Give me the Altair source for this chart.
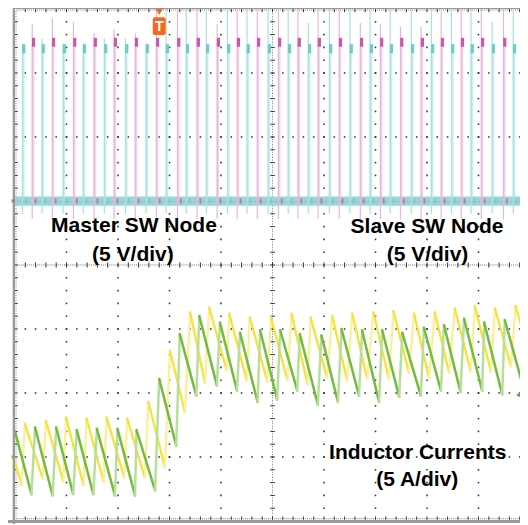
import altair as alt
import pandas as pd

# ---------------- data ----------------
# time in screen divisions (10 div across), inductor currents in A (5 A/div)
yellow_t = [0.00, 0.13, 0.19, 0.54, 0.60, 0.94, 0.99, 1.33, 1.39, 1.72, 1.78, 2.12, 2.18,
            2.52, 2.59, 2.91, 3.01, 3.30, 3.40, 3.69, 3.77, 4.11, 4.16, 4.50, 4.56, 4.90,
            4.97, 5.29, 5.37, 5.68, 5.74, 6.06, 6.16, 6.45, 6.55, 6.84, 6.96, 7.26, 7.35,
            7.65, 7.75, 8.04, 8.15, 8.43, 8.54, 8.85, 8.93, 9.24, 9.32, 9.63, 9.72, 9.96]
yellow_a = [-0.4, -2.2, 2.6, -1.7, 2.8, -1.9, 3.1, -2.2, 3.0, -1.9, 3.1, -1.6, 3.0,
            -1.6, 4.3, -0.8, 8.3, 3.5, 11.3, 5.8, 11.7, 6.8, 11.2, 6.0, 10.9, 5.9,
            10.9, 6.0, 11.2, 5.7, 10.9, 6.2, 11.0, 6.0, 11.2, 6.1, 11.3, 6.1, 11.4,
            6.6, 11.2, 6.2, 11.3, 6.6, 11.6, 6.7, 11.8, 6.7, 11.6, 7.1, 11.8, 8.5]
green_t = [0.00, 0.32, 0.39, 0.73, 0.80, 1.13, 1.20, 1.52, 1.59, 1.94, 1.99, 2.33, 2.36,
           2.72, 2.80, 3.13, 3.20, 3.52, 3.58, 3.92, 3.98, 4.31, 4.37, 4.71, 4.76, 5.09,
           5.15, 5.48, 5.53, 5.88, 5.95, 6.27, 6.34, 6.68, 6.74, 7.07, 7.13, 7.46, 7.52,
           7.88, 7.94, 8.27, 8.33, 8.65, 8.72, 9.07, 9.11, 9.46, 9.51, 9.88, 9.94, 9.96]
green_a = [2.0, -2.9, 2.3, -3.0, 2.3, -2.9, 2.1, -2.9, 2.2, -3.0, 2.2, -3.0, 2.1,
           -2.6, 6.1, 0.9, 9.6, 4.8, 11.0, 5.6, 10.5, 5.2, 9.7, 4.3, 9.9, 4.5,
           9.9, 5.2, 9.6, 4.1, 9.5, 4.3, 10.0, 4.8, 9.9, 4.3, 9.9, 4.7, 9.7,
           4.8, 10.1, 5.2, 10.3, 5.1, 10.8, 5.2, 10.5, 4.9, 10.7, 5.3, 10.6, 10.3]

# switch-node pulses: pulse centre (div), spike top (V); 5 V/div
pink_pulse_t = [0.35, 0.74, 1.15, 1.55, 1.94, 2.35, 2.76, 3.17, 3.55, 3.94, 4.33, 4.72, 5.13,
                5.51, 5.90, 6.31, 6.72, 7.11, 7.50, 7.90, 8.29, 8.68, 9.07, 9.50, 9.88]
pink_spike_v = [13.8, 14.3, 14.0, 13.1, 13.4, 13.1, 15.5, 15.5, 15.5, 13.8, 15.5, 15.5, 15.5,
                15.5, 14.9, 15.5, 13.9, 13.8, 13.6, 13.6, 15.5, 15.5, 15.5, 15.5, 15.5]
cyan_pulse_t = [0.16, 0.54, 0.95, 1.34, 1.75, 2.16, 2.56, 2.95, 3.34, 3.73, 4.14, 4.52, 4.93,
                5.32, 5.71, 6.12, 6.52, 6.91, 7.30, 7.71, 8.10, 8.49, 8.87, 9.28, 9.69]
cyan_spike_v = [12.3, 12.7, 12.3, 12.3, 12.7, 12.7, 12.3, 15.5, 15.5, 15.5, 15.5, 15.5, 15.5,
                15.5, 13.9, 15.5, 15.5, 15.5, 15.5, 15.5, 15.5, 15.5, 15.5, 14.0, 15.5]
pink_plateau_v = 12.4
cyan_plateau_v = 11.9

labels = ["Master SW Node", "(5 V/div)", "Slave SW Node", "(5 V/div)",
          "Inductor Currents", "(5 A/div)"]
label_t = [2.31, 2.29, 8.00, 8.01, 7.82, 7.81]
label_y = [4.61, 4.16, 4.60, 4.16, 1.07, 0.64]

SW_OFF, IL_OFF = 5.0, 1.0   # channel ground positions (div)
V_DIV, A_DIV = 5.0, 5.0

# ---------------- scales (51.5 px per time div, 64 px per amplitude div) ----------------
X0, X1 = -7 / 51.5, 505 / 51.5
Y0, Y1 = -3 / 64, 513 / 64
xs = alt.Scale(domain=[X0, X1], nice=False, zero=False)
ys = alt.Scale(domain=[Y0, Y1], nice=False, zero=False)


def X(f="x"):
    return alt.X(f + ":Q", scale=xs, axis=None)


def Y(f="y"):
    return alt.Y(f + ":Q", scale=ys, axis=None)


# ---------------- graticule ----------------
dots = []
for k in [1, 2, 3, 4, 6, 7, 8, 9]:
    for j in range(1, 40):
        dots.append({"x": k, "y": j * 0.2})
for k in [1, 2, 3, 5, 6, 7]:
    for j in range(1, 50):
        dots.append({"x": j * 0.2, "y": k})
grid = alt.Chart(pd.DataFrame(dots)).mark_square(size=2.5, color="#222", opacity=0.9).encode(X(), Y())

ticks = []
for j in range(1, 40):  # centre vertical axis and left edge
    ticks.append({"x": 5 - 0.045, "x2": 5 + 0.045, "y": j * 0.2, "y2": j * 0.2})
    ticks.append({"x": 0.0, "x2": 0.055, "y": j * 0.2, "y2": j * 0.2})
for j in range(1, 50):  # centre horizontal axis, top and bottom edges
    ticks.append({"x": j * 0.2, "x2": j * 0.2, "y": 4 - 0.04, "y2": 4 + 0.04})
    ticks.append({"x": j * 0.2, "x2": j * 0.2, "y": 8 - 0.05, "y2": 8.0})
    ticks.append({"x": j * 0.2, "x2": j * 0.2, "y": 0.02, "y2": 0.07})
tick_layer = alt.Chart(pd.DataFrame(ticks)).mark_rule(color="#333", strokeWidth=1).encode(
    X(), alt.X2("x2"), Y(), alt.Y2("y2"))

fine = []
for j in range(1, 250):
    fine.append({"x": j * 0.04, "y": 4.0})
    fine.append({"x": j * 0.04, "y": 8.0 - 0.015})
    fine.append({"x": j * 0.04, "y": 0.035})
for j in range(1, 200):
    fine.append({"x": 5.0, "y": j * 0.04})
    fine.append({"x": 0.02, "y": j * 0.04})
fine_layer = alt.Chart(pd.DataFrame(fine)).mark_square(size=1, color="#555", opacity=0.8).encode(X(), Y())

frame = pd.DataFrame([
    {"x": X0 + 4.7 / 51.5, "x2": 0.0, "y": Y0, "y2": Y1},       # left bar
    {"x": X0, "x2": X1, "y": -0.03, "y2": 0.015},               # bottom bar
    {"x": 0.0, "x2": X1, "y": 8.0, "y2": Y1},                    # top line
])
frame_layer = alt.Chart(frame).mark_rect(color="#9a9a9a").encode(X(), alt.X2("x2"), Y(), alt.Y2("y2"))

# ---------------- switch nodes ----------------
band = pd.DataFrame([{"x": 0.0, "x2": X1, "y": SW_OFF - 0.075, "y2": SW_OFF + 0.07}])
band_layer = alt.Chart(band).mark_rect(color="#93dad6").encode(X(), alt.X2("x2"), Y(), alt.Y2("y2"))
pink_base = alt.Chart(pd.DataFrame([{"x": 0.0, "x2": X1, "y": SW_OFF - 0.01}])).mark_rule(
    color="#d9a0cf", strokeWidth=1.2, opacity=0.8).encode(X(), alt.X2("x2"), Y())


def pulse_layers(ts, spikes, plateau, light, dark, under):
    body, spike, blob, base = [], [], [], []
    for t, s in zip(ts, spikes):
        body.append({"x": t - 0.026, "x2": t + 0.026, "y": SW_OFF, "y2": SW_OFF + plateau / V_DIV})
        spike.append({"x": t - 0.015, "y": SW_OFF + under / V_DIV, "y2": SW_OFF + s / V_DIV})
        blob.append({"x": t + 0.01, "y": SW_OFF + (plateau - 0.35) / V_DIV, "y2": SW_OFF + (plateau + 0.35) / V_DIV})
        base.append({"x": t + 0.05, "y": SW_OFF - 0.2 / V_DIV, "y2": SW_OFF + 0.2 / V_DIV})
    l1 = alt.Chart(pd.DataFrame(body)).mark_rect(color=light, opacity=0.6).encode(X(), alt.X2("x2"), Y(), alt.Y2("y2"))
    l2 = alt.Chart(pd.DataFrame(spike)).mark_rule(color=light, strokeWidth=1.2).encode(X(), Y(), alt.Y2("y2"))
    l3 = alt.Chart(pd.DataFrame(blob)).mark_rule(color=dark, strokeWidth=3.2).encode(X(), Y(), alt.Y2("y2"))
    l4 = alt.Chart(pd.DataFrame(base)).mark_rule(color=dark, strokeWidth=1.8, opacity=0.8).encode(X(), Y(), alt.Y2("y2"))
    return [l1, l2, l3, l4]


pink_layers = pulse_layers(pink_pulse_t, pink_spike_v, pink_plateau_v, "#e8b6dc", "#c75aa9", -1.4)
cyan_layers = pulse_layers(cyan_pulse_t, cyan_spike_v, cyan_plateau_v, "#a7e2df", "#6fcdc8", -1.0)

# ---------------- inductor currents ----------------


def segs(ts, amps, light, dark):
    rows = []
    for i in range(len(ts) - 1):
        rows.append({"x": ts[i], "x2": ts[i + 1],
                     "y": IL_OFF + amps[i] / A_DIV, "y2": IL_OFF + amps[i + 1] / A_DIV,
                     "c": light if amps[i + 1] > amps[i] else dark})
    return pd.DataFrame(rows)


def current_layer(ts, amps, light, dark, w):
    return alt.Chart(segs(ts, amps, light, dark)).mark_rule(strokeWidth=w, strokeCap="round").encode(
        X(), alt.X2("x2"), Y(), alt.Y2("y2"), color=alt.Color("c:N", scale=None))


yellow_layer = current_layer(yellow_t, yellow_a, "#f8f09a", "#f3e33c", 2.3)
green_layer = current_layer(green_t, green_a, "#b9de9b", "#74bb40", 2.5)

# ---------------- markers and labels ----------------
marks = pd.DataFrame([
    {"x": -0.03, "y": SW_OFF, "c": "#c75aa9", "shape": "triangle-right", "s": 18},
    {"x": -0.03, "y": IL_OFF, "c": "#6fbf4a", "shape": "triangle-right", "s": 18},
    {"x": 9.80, "y": 1.97, "c": "#4fae4a", "shape": "triangle-left", "s": 75},
    {"x": 2.80, "y": 7.955, "c": "#f26a21", "shape": "triangle-down", "s": 55},
])
marker_layer = alt.Chart(marks).mark_point(filled=True, opacity=1).encode(
    X(), Y(), color=alt.Color("c:N", scale=None), shape=alt.Shape("shape:N", scale=None),
    size=alt.Size("s:Q", scale=None))

tbox = alt.Chart(pd.DataFrame([{"x": 2.675, "x2": 2.925, "y": 7.594, "y2": 7.87}])).mark_rect(
    color="#f26a21", cornerRadius=2).encode(X(), alt.X2("x2"), Y(), alt.Y2("y2"))
tlabel = alt.Chart(pd.DataFrame([{"x": 2.80, "y": 7.725, "t": "T"}])).mark_text(
    color="white", font="Liberation Sans", fontWeight="bold", fontSize=14, align="center",
    baseline="middle").encode(X(), Y(), text="t:N")

text_layer = alt.Chart(pd.DataFrame({"x": label_t, "y": label_y, "t": labels})).mark_text(
    color="black", font="Liberation Sans", fontWeight="bold", fontSize=21, align="center",
    baseline="middle").encode(X(), Y(), text="t:N")

chart = alt.layer(
    grid, fine_layer, tick_layer, band_layer, pink_base, *pink_layers, *cyan_layers,
    yellow_layer, green_layer, frame_layer, marker_layer, tbox, tlabel, text_layer
).properties(
    width=512, height=516, padding=0, autosize=alt.AutoSizeParams(type="none"),
    background="white"
).configure_view(stroke=None)

chart.save("out.html", embed_options={"renderer": "svg", "actions": False})
